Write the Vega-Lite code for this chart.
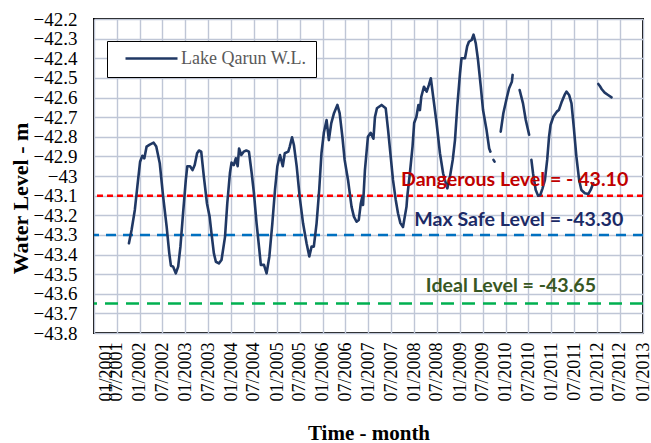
{
  "$schema": "https://vega.github.io/schema/vega-lite/v6.json",
  "width": 549,
  "height": 314,
  "autosize": "none",
  "padding": {"left": 94, "top": 19, "right": 8, "bottom": 110},
  "background": "white",
  "config": {
    "view": {"stroke": "#000000", "strokeWidth": 2},
    "axis": {
      "grid": true, "gridColor": "#bfc6d6", "gridWidth": 1.4,
      "ticks": false, "domain": false,
      "labelFont": "Liberation Serif", "labelColor": "#000000",
      "titleFont": "Liberation Serif", "titleColor": "#000000", "titleFontWeight": "bold"
    }
  },
  "encoding": {
    "x": {
      "field": "d", "type": "temporal",
      "scale": {"type": "utc", "domain": [{"year": 2001, "month": 1, "date": 1, "utc": true}, {"year": 2013, "month": 1, "date": 1, "utc": true}]},
      "axis": {
        "title": "Time - month", "titleFontSize": 21, "titleY": 100, "titleBaseline": "middle",
        "format": "%m/%Y",
        "tickCount": {"interval": "month", "step": 6},
        "labelAngle": -90, "labelAlign": "right", "labelBaseline": "middle",
        "labelFontSize": 18, "labelPadding": 9, "labelOverlap": false, "labelFlush": false,
        "labelOffset": {"condition": {"test": "datum.value <= utc(2001,0,2)", "value": 12}, "value": 0}
      }
    },
    "y": {
      "field": "wl", "type": "quantitative",
      "scale": {"domain": [-43.8, -42.2], "nice": false, "zero": false},
      "axis": {
        "title": "Water Level - m", "titleFontSize": 22, "titleX": -74, "titleY": 179,
        "titleAlign": "center", "titleBaseline": "middle", "titleAngle": -90,
        "values": [-43.8, -43.7, -43.6, -43.5, -43.4, -43.3, -43.2, -43.1, -43.0, -42.9, -42.8, -42.7, -42.6, -42.5, -42.4, -42.3, -42.2],
        "format": ".1~f", "labelFontSize": 19, "labelPadding": 17
      }
    }
  },
  "layer": [
    {
      "data": {"values": [{"lv": -43.1}]},
      "mark": {"type": "rule", "color": "#ff0000", "strokeWidth": 2.5, "strokeDash": [6, 4]},
      "encoding": {"y": {"field": "lv", "type": "quantitative"}, "x": null}
    },
    {
      "data": {"values": [{"lv": -43.3}]},
      "mark": {"type": "rule", "color": "#0070c0", "strokeWidth": 2.5, "strokeDash": [10, 7]},
      "encoding": {"y": {"field": "lv", "type": "quantitative"}, "x": null}
    },
    {
      "data": {"values": [{"lv": -43.65}]},
      "mark": {"type": "rule", "color": "#00b050", "strokeWidth": 2.5, "strokeDash": [13, 8]},
      "encoding": {"y": {"field": "lv", "type": "quantitative"}, "x": null}
    },
    {
      "data": {"values": [
        {"d": "2001-10-07", "wl": -43.343, "s": 1}, {"d": "2001-10-28", "wl": -43.275, "s": 1}, {"d": "2001-11-23", "wl": -43.173, "s": 1}, {"d": "2001-12-13", "wl": -43.054, "s": 1},
        {"d": "2002-01-04", "wl": -42.927, "s": 1}, {"d": "2002-01-22", "wl": -42.897, "s": 1}, {"d": "2002-02-07", "wl": -42.91, "s": 1}, {"d": "2002-02-25", "wl": -42.85, "s": 1},
        {"d": "2002-03-22", "wl": -42.84, "s": 1}, {"d": "2002-04-22", "wl": -42.83, "s": 1}, {"d": "2002-05-13", "wl": -42.85, "s": 1}, {"d": "2002-06-10", "wl": -42.935, "s": 1},
        {"d": "2002-07-07", "wl": -43.105, "s": 1}, {"d": "2002-08-04", "wl": -43.258, "s": 1}, {"d": "2002-08-25", "wl": -43.394, "s": 1}, {"d": "2002-09-07", "wl": -43.457, "s": 1},
        {"d": "2002-09-25", "wl": -43.462, "s": 1}, {"d": "2002-10-16", "wl": -43.496, "s": 1}, {"d": "2002-11-04", "wl": -43.462, "s": 1}, {"d": "2002-11-22", "wl": -43.36, "s": 1},
        {"d": "2002-12-13", "wl": -43.19, "s": 1}, {"d": "2003-01-04", "wl": -43.02, "s": 1}, {"d": "2003-01-16", "wl": -42.95, "s": 1}, {"d": "2003-02-07", "wl": -42.95, "s": 1},
        {"d": "2003-02-27", "wl": -42.97, "s": 1}, {"d": "2003-03-16", "wl": -42.944, "s": 1}, {"d": "2003-04-04", "wl": -42.884, "s": 1}, {"d": "2003-04-19", "wl": -42.87, "s": 1},
        {"d": "2003-05-07", "wl": -42.876, "s": 1}, {"d": "2003-05-28", "wl": -43.003, "s": 1}, {"d": "2003-06-22", "wl": -43.14, "s": 1}, {"d": "2003-07-13", "wl": -43.207, "s": 1},
        {"d": "2003-07-28", "wl": -43.292, "s": 1}, {"d": "2003-08-16", "wl": -43.394, "s": 1}, {"d": "2003-09-01", "wl": -43.437, "s": 1}, {"d": "2003-09-25", "wl": -43.445, "s": 1},
        {"d": "2003-10-16", "wl": -43.428, "s": 1}, {"d": "2003-11-13", "wl": -43.31, "s": 1}, {"d": "2003-12-01", "wl": -43.14, "s": 1}, {"d": "2003-12-22", "wl": -42.986, "s": 1},
        {"d": "2004-01-04", "wl": -42.932, "s": 1}, {"d": "2004-01-22", "wl": -42.944, "s": 1}, {"d": "2004-02-07", "wl": -42.91, "s": 1}, {"d": "2004-02-22", "wl": -42.95, "s": 1},
        {"d": "2004-03-04", "wl": -42.86, "s": 1}, {"d": "2004-03-22", "wl": -42.893, "s": 1}, {"d": "2004-04-10", "wl": -42.876, "s": 1}, {"d": "2004-05-01", "wl": -42.87, "s": 1},
        {"d": "2004-05-22", "wl": -42.876, "s": 1}, {"d": "2004-06-13", "wl": -42.986, "s": 1}, {"d": "2004-07-01", "wl": -43.088, "s": 1}, {"d": "2004-07-22", "wl": -43.241, "s": 1},
        {"d": "2004-08-13", "wl": -43.377, "s": 1}, {"d": "2004-08-25", "wl": -43.453, "s": 1}, {"d": "2004-09-19", "wl": -43.453, "s": 1}, {"d": "2004-10-10", "wl": -43.496, "s": 1},
        {"d": "2004-11-01", "wl": -43.41, "s": 1}, {"d": "2004-11-25", "wl": -43.24, "s": 1}, {"d": "2004-12-16", "wl": -43.07, "s": 1}, {"d": "2005-01-04", "wl": -42.95, "s": 1},
        {"d": "2005-01-25", "wl": -42.893, "s": 1}, {"d": "2005-02-16", "wl": -42.95, "s": 1}, {"d": "2005-03-04", "wl": -42.884, "s": 1}, {"d": "2005-04-01", "wl": -42.876, "s": 1},
        {"d": "2005-04-13", "wl": -42.85, "s": 1}, {"d": "2005-05-01", "wl": -42.803, "s": 1}, {"d": "2005-05-16", "wl": -42.842, "s": 1}, {"d": "2005-06-07", "wl": -42.95, "s": 1},
        {"d": "2005-07-01", "wl": -43.105, "s": 1}, {"d": "2005-07-28", "wl": -43.241, "s": 1}, {"d": "2005-08-25", "wl": -43.343, "s": 1}, {"d": "2005-09-16", "wl": -43.41, "s": 1},
        {"d": "2005-10-04", "wl": -43.36, "s": 1}, {"d": "2005-10-22", "wl": -43.36, "s": 1}, {"d": "2005-11-13", "wl": -43.241, "s": 1}, {"d": "2005-12-04", "wl": -43.07, "s": 1},
        {"d": "2005-12-22", "wl": -42.884, "s": 1}, {"d": "2006-01-10", "wl": -42.78, "s": 1}, {"d": "2006-02-01", "wl": -42.715, "s": 1}, {"d": "2006-02-19", "wl": -42.817, "s": 1},
        {"d": "2006-03-10", "wl": -42.732, "s": 1}, {"d": "2006-04-01", "wl": -42.68, "s": 1}, {"d": "2006-04-28", "wl": -42.638, "s": 1}, {"d": "2006-05-16", "wl": -42.68, "s": 1},
        {"d": "2006-06-07", "wl": -42.8, "s": 1}, {"d": "2006-06-25", "wl": -42.918, "s": 1}, {"d": "2006-07-22", "wl": -43.02, "s": 1}, {"d": "2006-08-19", "wl": -43.156, "s": 1},
        {"d": "2006-09-07", "wl": -43.207, "s": 1}, {"d": "2006-09-28", "wl": -43.233, "s": 1}, {"d": "2006-10-16", "wl": -43.224, "s": 1}, {"d": "2006-11-01", "wl": -43.14, "s": 1},
        {"d": "2006-11-13", "wl": -43.105, "s": 1}, {"d": "2006-11-19", "wl": -43.148, "s": 1}, {"d": "2006-12-04", "wl": -42.97, "s": 1}, {"d": "2006-12-28", "wl": -42.8, "s": 1},
        {"d": "2007-01-19", "wl": -42.78, "s": 1}, {"d": "2007-02-10", "wl": -42.81, "s": 1}, {"d": "2007-02-22", "wl": -42.7, "s": 1}, {"d": "2007-03-10", "wl": -42.655, "s": 1},
        {"d": "2007-04-16", "wl": -42.638, "s": 1}, {"d": "2007-05-19", "wl": -42.655, "s": 1}, {"d": "2007-06-07", "wl": -42.766, "s": 1}, {"d": "2007-06-25", "wl": -42.884, "s": 1},
        {"d": "2007-07-16", "wl": -43.02, "s": 1}, {"d": "2007-08-07", "wl": -43.122, "s": 1}, {"d": "2007-08-25", "wl": -43.19, "s": 1}, {"d": "2007-09-13", "wl": -43.24, "s": 1},
        {"d": "2007-10-04", "wl": -43.26, "s": 1}, {"d": "2007-11-01", "wl": -43.156, "s": 1}, {"d": "2007-11-07", "wl": -43.105, "s": 1}, {"d": "2007-11-28", "wl": -42.986, "s": 1},
        {"d": "2007-12-19", "wl": -42.85, "s": 1}, {"d": "2008-01-01", "wl": -42.73, "s": 1}, {"d": "2008-01-19", "wl": -42.698, "s": 1}, {"d": "2008-02-04", "wl": -42.638, "s": 1},
        {"d": "2008-02-16", "wl": -42.664, "s": 1}, {"d": "2008-02-27", "wl": -42.596, "s": 1}, {"d": "2008-03-19", "wl": -42.545, "s": 1}, {"d": "2008-04-10", "wl": -42.57, "s": 1},
        {"d": "2008-04-28", "wl": -42.536, "s": 1}, {"d": "2008-05-13", "wl": -42.502, "s": 1}, {"d": "2008-06-01", "wl": -42.596, "s": 1}, {"d": "2008-06-28", "wl": -42.73, "s": 1},
        {"d": "2008-07-25", "wl": -42.884, "s": 1}, {"d": "2008-08-19", "wl": -42.986, "s": 1}, {"d": "2008-09-10", "wl": -43.037, "s": 1}, {"d": "2008-09-22", "wl": -43.063, "s": 1},
        {"d": "2008-10-13", "wl": -43.003, "s": 1}, {"d": "2008-11-04", "wl": -42.918, "s": 1}, {"d": "2008-11-22", "wl": -42.817, "s": 1}, {"d": "2008-12-10", "wl": -42.647, "s": 1},
        {"d": "2009-01-01", "wl": -42.477, "s": 1}, {"d": "2009-01-13", "wl": -42.4, "s": 1}, {"d": "2009-02-10", "wl": -42.4, "s": 1}, {"d": "2009-02-27", "wl": -42.34, "s": 1},
        {"d": "2009-03-13", "wl": -42.316, "s": 1}, {"d": "2009-04-04", "wl": -42.307, "s": 1}, {"d": "2009-04-19", "wl": -42.28, "s": 1}, {"d": "2009-05-07", "wl": -42.324, "s": 1},
        {"d": "2009-05-25", "wl": -42.409, "s": 1}, {"d": "2009-06-16", "wl": -42.545, "s": 1}, {"d": "2009-07-04", "wl": -42.664, "s": 1}, {"d": "2009-08-01", "wl": -42.766, "s": 1},
        {"d": "2009-08-22", "wl": -42.86, "s": 1}, {"d": "2009-09-01", "wl": -42.876, "s": 1},
        {"d": "2009-09-25", "wl": -42.918, "s": 2}, {"d": "2009-10-04", "wl": -42.927, "s": 2},
        {"d": "2009-11-22", "wl": -42.774, "s": 3}, {"d": "2009-12-13", "wl": -42.68, "s": 3}, {"d": "2010-01-10", "wl": -42.6, "s": 3}, {"d": "2010-01-28", "wl": -42.553, "s": 3},
        {"d": "2010-02-19", "wl": -42.52, "s": 3}, {"d": "2010-02-25", "wl": -42.485, "s": 3},
        {"d": "2010-04-22", "wl": -42.562, "s": 4}, {"d": "2010-05-19", "wl": -42.63, "s": 4}, {"d": "2010-06-10", "wl": -42.715, "s": 4}, {"d": "2010-07-07", "wl": -42.79, "s": 4},
        {"d": "2010-07-25", "wl": -42.918, "s": 5}, {"d": "2010-08-07", "wl": -42.986, "s": 5}, {"d": "2010-08-28", "wl": -43.07, "s": 5}, {"d": "2010-09-16", "wl": -43.1, "s": 5},
        {"d": "2010-10-04", "wl": -43.097, "s": 5}, {"d": "2010-10-22", "wl": -43.063, "s": 5}, {"d": "2010-11-10", "wl": -43.02, "s": 5}, {"d": "2010-11-28", "wl": -42.918, "s": 5},
        {"d": "2010-12-13", "wl": -42.8, "s": 5}, {"d": "2010-12-25", "wl": -42.74, "s": 5}, {"d": "2011-01-16", "wl": -42.698, "s": 5}, {"d": "2011-02-13", "wl": -42.672, "s": 5},
        {"d": "2011-03-01", "wl": -42.664, "s": 5}, {"d": "2011-03-22", "wl": -42.626, "s": 5}, {"d": "2011-04-16", "wl": -42.587, "s": 5}, {"d": "2011-05-01", "wl": -42.57, "s": 5},
        {"d": "2011-05-22", "wl": -42.587, "s": 5}, {"d": "2011-06-10", "wl": -42.63, "s": 5}, {"d": "2011-06-28", "wl": -42.749, "s": 5}, {"d": "2011-07-19", "wl": -42.9, "s": 5},
        {"d": "2011-08-10", "wl": -43.02, "s": 5}, {"d": "2011-08-28", "wl": -43.071, "s": 5}, {"d": "2011-09-25", "wl": -43.088, "s": 5}, {"d": "2011-10-22", "wl": -43.092, "s": 5},
        {"d": "2011-11-10", "wl": -43.071, "s": 5}, {"d": "2011-12-01", "wl": -43.037, "s": 5},
        {"d": "2012-01-10", "wl": -42.531, "s": 6}, {"d": "2012-01-22", "wl": -42.541, "s": 6}, {"d": "2012-02-07", "wl": -42.558, "s": 6}, {"d": "2012-03-01", "wl": -42.575, "s": 6},
        {"d": "2012-03-28", "wl": -42.587, "s": 6}, {"d": "2012-04-25", "wl": -42.599, "s": 6}
      ]},
      "mark": {"type": "line", "strokeWidth": 2.6, "strokeJoin": "round", "strokeCap": "round"},
      "encoding": {
        "detail": {"field": "s", "type": "nominal"},
        "color": {
          "datum": "Lake Qarun W.L.",
          "scale": {"range": ["#203864"]},
          "legend": {
            "title": null, "orient": "none", "legendX": 13, "legendY": 22,
            "strokeColor": "#000000", "fillColor": "#ffffff", "padding": 9,
            "symbolType": "stroke", "symbolSize": 2704, "symbolStrokeWidth": 2.6,
            "symbolOffset": 8, "clipHeight": 17, "labelOffset": 2,
            "labelFont": "Liberation Serif", "labelFontSize": 18, "labelColor": "#595959"
          }
        }
      }
    },
    {
      "data": {"values": [{"d": "2010-03-13", "wl": -43.02, "t": "Dangerous Level = - 43.10"}]},
      "mark": {"type": "text", "font": "Lato", "fontWeight": "bold", "fontSize": 19.6, "color": "#c00000", "align": "center", "baseline": "middle"},
      "encoding": {"text": {"field": "t"}}
    },
    {
      "data": {"values": [{"d": "2010-04-15", "wl": -43.224, "t": "Max Safe Level = -43.30"}]},
      "mark": {"type": "text", "font": "Lato", "fontWeight": "bold", "fontSize": 19.6, "color": "#1c2a66", "align": "center", "baseline": "middle"},
      "encoding": {"text": {"field": "t"}}
    },
    {
      "data": {"values": [{"d": "2010-02-12", "wl": -43.56, "t": "Ideal Level = -43.65"}]},
      "mark": {"type": "text", "font": "Lato", "fontWeight": "bold", "fontSize": 19.6, "color": "#385723", "align": "center", "baseline": "middle"},
      "encoding": {"text": {"field": "t"}}
    }
  ]
}
